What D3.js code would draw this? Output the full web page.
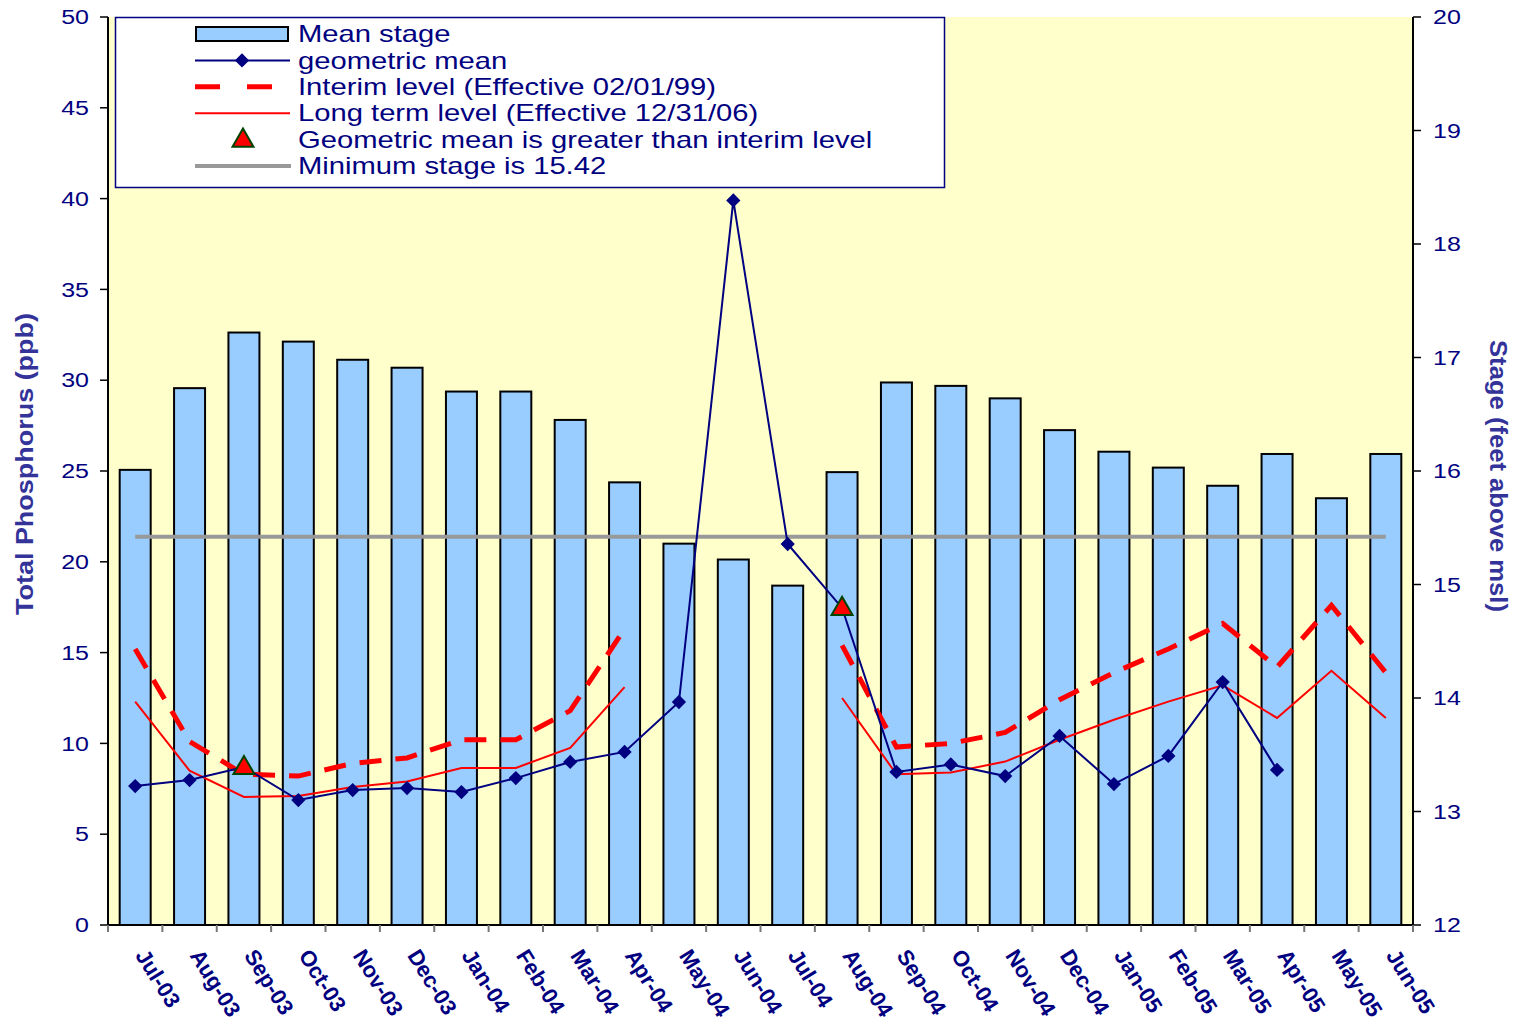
<!DOCTYPE html>
<html lang="en">
<head>
    <meta charset="UTF-8">
    <title>Total Phosphorus and Stage</title>
    <style>
        body { margin: 0; background: #ffffff; }
        svg { display: block; }
        text { font-family: Arial, "Liberation Sans", sans-serif; }
    </style>
    <script src="https://d3js.org/d3.v7.min.js"></script>
</head>
<body>
    <svg width="1518" height="1026"></svg>
    <script>
        // Дані
        const months = ["Jul-03", "Aug-03", "Sep-03", "Oct-03", "Nov-03", "Dec-03", "Jan-04", "Feb-04",
            "Mar-04", "Apr-04", "May-04", "Jun-04", "Jul-04", "Aug-04", "Sep-04", "Oct-04",
            "Nov-04", "Dec-04", "Jan-05", "Feb-05", "Mar-05", "Apr-05", "May-05", "Jun-05"];
        const meanStage = [16.01, 16.73, 17.22, 17.14, 16.98, 16.91, 16.70, 16.70, 16.45, 15.90, 15.36, 15.22,
            14.99, 15.99, 16.78, 16.75, 16.64, 16.36, 16.17, 16.03, 15.87, 16.15, 15.76, 16.15];
        const geoMean = [7.65, 7.98, 8.7, 6.88, 7.43, 7.54, 7.32, 8.09, 8.98, 9.53, 12.28, 39.9,
            20.98, 17.46, 8.43, 8.84, 8.2, 10.41, 7.76, 9.31, 13.38, 8.54, null, null];
        const interimLevel = [15.2, 10.1, 8.3, 8.2, 8.9, 9.2, 10.2, 10.2, 11.8, 16.3, null, null,
            null, 15.4, 9.8, 10.0, 10.6, 12.4, 13.9, 15.2, 16.6, 14.2, 17.6, 13.9];
        const longTermLevel = [12.3, 8.5, 7.05, 7.1, 7.6, 7.9, 8.65, 8.65, 9.75, 13.1, null, null,
            null, 12.5, 8.3, 8.4, 9.0, 10.2, 11.3, 12.3, 13.2, 11.4, 14.0, 11.4];
        const exceedMonths = ["Sep-03", "Aug-04"];
        const minStage = 15.42;
        const leftTicks = [0, 5, 10, 15, 20, 25, 30, 35, 40, 45, 50];
        const rightTicks = [12, 13, 14, 15, 16, 17, 18, 19, 20];
        const legendLabels = ["Mean stage", "geometric mean", "Interim level (Effective 02/01/99)",
            "Long term level (Effective 12/31/06)", "Geometric mean is greater than interim level",
            "Minimum stage is 15.42"];

        const navy = "#000080";
        const svg = d3.select("svg");
        const pLeft = 108, pRight = 1413, pTop = 17, pBottom = 925;
        const stretch = 1.25; // текст на оригіналі трохи розтягнутий по горизонталі

        const x = d3.scaleBand().domain(months).range([pLeft, pRight]).paddingInner(0.43).paddingOuter(0.215);
        const xc = d => x(d) + x.bandwidth() / 2;
        const band = (pRight - pLeft) / months.length;
        const yL = d3.scaleLinear().domain([0, 50]).range([pBottom, pTop]);
        const yR = d3.scaleLinear().domain([12, 20]).range([pBottom, pTop]);

        // фон області графіка
        svg.append("rect").attr("x", pLeft).attr("y", pTop)
            .attr("width", pRight - pLeft).attr("height", pBottom - pTop)
            .attr("fill", "#FFFFCC");

        // стовпчики (середній рівень)
        svg.selectAll("rect.bar").data(months).enter().append("rect")
            .attr("class", "bar")
            .attr("x", d => x(d))
            .attr("y", (d, i) => yR(meanStage[i]))
            .attr("width", x.bandwidth())
            .attr("height", (d, i) => pBottom - yR(meanStage[i]))
            .attr("fill", "#99CCFF")
            .attr("stroke", "#000")
            .attr("stroke-width", 2);

        // мінімальний рівень
        svg.append("line")
            .attr("x1", xc(months[0])).attr("x2", xc(months[months.length - 1]))
            .attr("y1", yR(minStage)).attr("y2", yR(minStage))
            .attr("stroke", "#999999").attr("stroke-width", 4);

        const lineL = arr => d3.line()
            .defined((d, i) => arr[i] !== null)
            .x(d => xc(d))
            .y((d, i) => yL(arr[i] === null ? 0 : arr[i]));

        svg.append("path").attr("d", lineL(longTermLevel)(months))
            .attr("fill", "none").attr("stroke", "#FF0000").attr("stroke-width", 2);

        svg.append("path").attr("d", lineL(interimLevel)(months))
            .attr("fill", "none").attr("stroke", "#FF0000").attr("stroke-width", 5)
            .attr("stroke-dasharray", "22,14");

        svg.append("path").attr("d", lineL(geoMean)(months))
            .attr("fill", "none").attr("stroke", navy).attr("stroke-width", 2);

        const diamond = d3.symbol().type(d3.symbolDiamond2).size(130);
        const geoPts = months.map((m, i) => ({ m, v: geoMean[i] })).filter(d => d.v !== null);
        svg.selectAll("path.dia").data(geoPts.filter(d => !exceedMonths.includes(d.m))).enter().append("path")
            .attr("class", "dia")
            .attr("d", diamond)
            .attr("transform", d => `translate(${xc(d.m)},${yL(d.v)})`)
            .attr("fill", navy);

        const tri = d3.symbol().type(d3.symbolTriangle).size(190);
        svg.selectAll("path.tri").data(geoPts.filter(d => exceedMonths.includes(d.m))).enter().append("path")
            .attr("class", "tri")
            .attr("d", tri)
            .attr("transform", d => `translate(${xc(d.m)},${yL(d.v) + 1})`)
            .attr("fill", "#FF0000").attr("stroke", "#004400").attr("stroke-width", 2);

        // осі
        svg.append("line").attr("x1", pLeft).attr("x2", pLeft).attr("y1", pTop).attr("y2", pBottom)
            .attr("stroke", "#000").attr("stroke-width", 2);
        svg.append("line").attr("x1", pRight).attr("x2", pRight).attr("y1", pTop).attr("y2", pBottom)
            .attr("stroke", "#000").attr("stroke-width", 2);
        svg.append("line").attr("x1", pLeft).attr("x2", pRight).attr("y1", pBottom).attr("y2", pBottom)
            .attr("stroke", "#000").attr("stroke-width", 2);

        svg.selectAll("line.lt").data(leftTicks).enter().append("line")
            .attr("x1", pLeft - 8).attr("x2", pLeft).attr("y1", d => yL(d)).attr("y2", d => yL(d))
            .attr("stroke", "#000").attr("stroke-width", 1.5);
        svg.selectAll("text.lt").data(leftTicks).enter().append("text")
            .attr("transform", d => `translate(89,${yL(d)}) scale(${stretch},1)`)
            .attr("dy", "0.36em")
            .attr("text-anchor", "end").attr("font-size", 20).attr("fill", navy)
            .text(d => d);

        svg.selectAll("line.rt").data(rightTicks).enter().append("line")
            .attr("x1", pRight).attr("x2", pRight + 8).attr("y1", d => yR(d)).attr("y2", d => yR(d))
            .attr("stroke", "#000").attr("stroke-width", 1.5);
        svg.selectAll("text.rt").data(rightTicks).enter().append("text")
            .attr("transform", d => `translate(1433,${yR(d)}) scale(${stretch},1)`)
            .attr("dy", "0.36em")
            .attr("text-anchor", "start").attr("font-size", 20).attr("fill", navy)
            .text(d => d);

        svg.selectAll("line.bt").data(d3.range(months.length + 1)).enter().append("line")
            .attr("x1", d => pLeft + d * band).attr("x2", d => pLeft + d * band)
            .attr("y1", pBottom).attr("y2", pBottom + 7)
            .attr("stroke", "#777").attr("stroke-width", 2);

        svg.selectAll("text.bt").data(months).enter().append("text")
            .attr("transform", d => `translate(${xc(d) + 13},947) rotate(58)`)
            .attr("dy", "0.72em")
            .attr("font-size", 22).attr("font-weight", "bold").attr("fill", navy)
            .text(d => d);

        // назви осей
        svg.append("text")
            .attr("transform", "translate(33,615) rotate(-90)")
            .attr("font-size", 24).attr("font-weight", "bold").attr("fill", "#333399")
            .attr("textLength", 302).attr("lengthAdjust", "spacingAndGlyphs")
            .text("Total Phosphorus (ppb)");
        svg.append("text")
            .attr("transform", "translate(1490,340) rotate(90)")
            .attr("font-size", 24).attr("font-weight", "bold").attr("fill", "#333399")
            .attr("textLength", 272).attr("lengthAdjust", "spacingAndGlyphs")
            .text("Stage (feet above msl)");

        // легенда
        const lg = svg.append("g");
        lg.append("rect").attr("x", 115.5).attr("y", 17.5).attr("width", 829).attr("height", 170)
            .attr("fill", "#fff").attr("stroke", navy).attr("stroke-width", 1.5);
        const rowY = i => 34 + i * 26.4;
        lg.selectAll("text").data(legendLabels).enter().append("text")
            .attr("transform", (d, i) => `translate(298,${rowY(i)}) scale(1.27,1)`)
            .attr("dy", "0.36em").attr("font-size", 23).attr("fill", navy)
            .text(d => d);

        lg.append("rect").attr("x", 196).attr("y", rowY(0) - 7).attr("width", 92).attr("height", 14)
            .attr("fill", "#99CCFF").attr("stroke", "#000").attr("stroke-width", 2);
        lg.append("line").attr("x1", 195).attr("x2", 290).attr("y1", rowY(1)).attr("y2", rowY(1))
            .attr("stroke", navy).attr("stroke-width", 2);
        lg.append("path").attr("d", diamond).attr("transform", `translate(242,${rowY(1)})`).attr("fill", navy);
        lg.append("line").attr("x1", 195).attr("x2", 290).attr("y1", rowY(2)).attr("y2", rowY(2))
            .attr("stroke", "#FF0000").attr("stroke-width", 5).attr("stroke-dasharray", "25,27");
        lg.append("line").attr("x1", 195).attr("x2", 290).attr("y1", rowY(3)).attr("y2", rowY(3))
            .attr("stroke", "#FF0000").attr("stroke-width", 2);
        lg.append("path").attr("d", tri).attr("transform", `translate(243,${rowY(4) + 1})`)
            .attr("fill", "#FF0000").attr("stroke", "#004400").attr("stroke-width", 2);
        lg.append("line").attr("x1", 195).attr("x2", 291).attr("y1", rowY(5)).attr("y2", rowY(5))
            .attr("stroke", "#999999").attr("stroke-width", 4);
    </script>
</body>
</html>
